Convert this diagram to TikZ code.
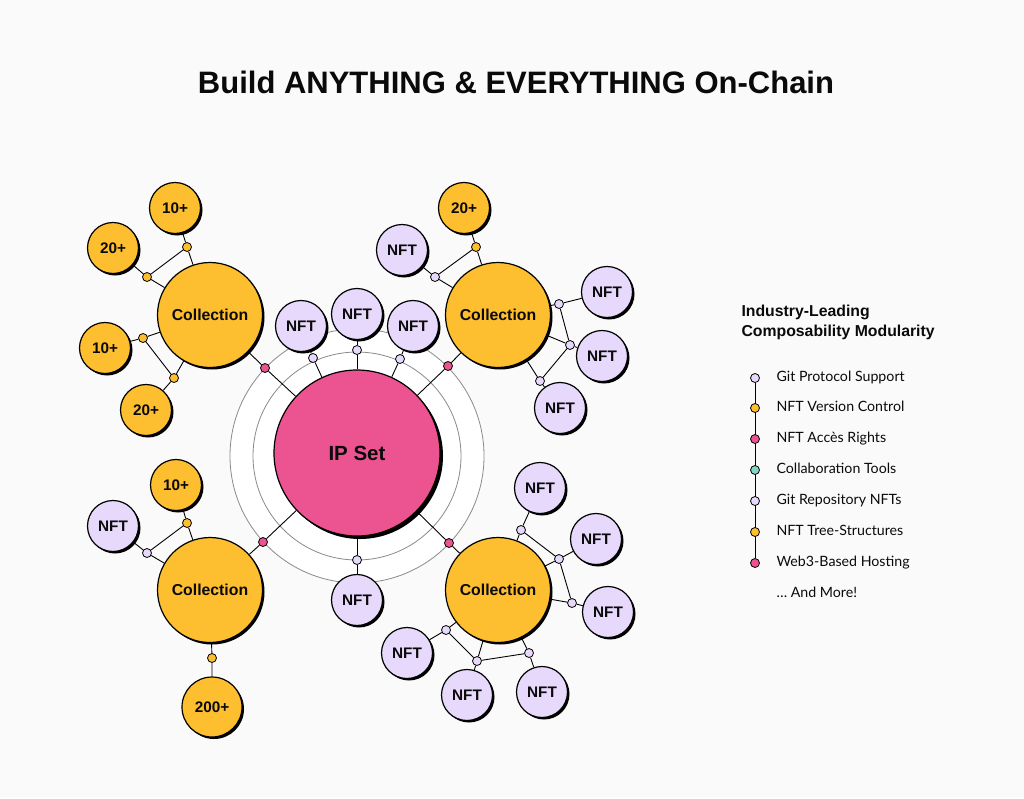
\documentclass[tikz,border=0pt]{standalone}
\usepackage{fontspec}
\setmainfont{Liberation Sans}
\newfontfamily\legendfont{Lato}
\usetikzlibrary{shadows}
\definecolor{bgc}{HTML}{FAFAFA}
\definecolor{ipyel}{HTML}{FDBE30}
\definecolor{ippink}{HTML}{EC5491}
\definecolor{iplav}{HTML}{E7D9FB}
\definecolor{ipteal}{HTML}{80D5C5}
\definecolor{ringgray}{HTML}{8A8A8A}
\definecolor{ink}{HTML}{0A0A0A}
\pgfdeclarelayer{bglayer}
\pgfdeclarelayer{edgelayer}
\pgfsetlayers{bglayer,edgelayer,main}
\begin{document}
\begin{tikzpicture}[x=1pt,y=-1pt,
  bubble/.style={circle, draw=black, line width=1.2pt, inner sep=0pt, text=ink,
    drop shadow={opacity=1, fill=black, shadow xshift=2pt, shadow yshift=-2pt}},
  ipset/.style={bubble, fill=ippink, minimum size=166pt, font=\bfseries\fontsize{20.5}{24}\selectfont,
    drop shadow={opacity=1, fill=black, shadow xshift=3pt, shadow yshift=-3pt}},
  coll/.style={bubble, fill=ipyel, minimum size=105pt, font=\bfseries\fontsize{15.8}{18}\selectfont},
  nft/.style={bubble, fill=iplav, minimum size=51pt, font=\bfseries\fontsize{15.3}{18}\selectfont},
  cnt/.style={bubble, fill=ipyel, minimum size=51pt, font=\bfseries\fontsize{15.3}{18}\selectfont},
  bigcnt/.style={cnt, minimum size=60pt},
  jdot/.style={circle, draw=black, line width=0.8pt, inner sep=0pt, minimum size=9pt},
  ydot/.style={jdot, fill=ipyel},
  pdot/.style={jdot, fill=ippink},
  ldot/.style={jdot, fill=iplav},
  tdot/.style={jdot, fill=ipteal},
  conn/.style={draw=black, line width=0.9pt},
  ring/.style={draw=ringgray, line width=0.8pt},
  legitem/.style={anchor=west, text=ink, text height=10pt, text depth=3pt, font=\legendfont\fontsize{14.2}{17}\selectfont},
  leghead/.style={anchor=base west, text=ink, font=\bfseries\fontsize{15.8}{18}\selectfont}
]
\begin{pgfonlayer}{bglayer}
  \fill[bgc] (0,0) rectangle (1024,798);
  \filldraw[fill=white, ring] (357,456) circle[radius=127];
  \draw[ring] (357,456) circle[radius=104];
\end{pgfonlayer}
\useasboundingbox (0,0) rectangle (1024,798);

% title
\node[font=\bfseries\fontsize{31}{36}\selectfont, text=ink] (title) at (516,82) {Build ANYTHING \& EVERYTHING On-Chain};

% center
\node[ipset] (ip) at (357,453) {IP Set};
\node[pdot] (p1) at (265,368) {};
\node[pdot] (p2) at (448,366) {};
\node[pdot] (p3) at (263,542) {};
\node[pdot] (p4) at (449,543) {};
\node[ldot] (r1) at (313,358) {};
\node[ldot] (r2) at (357,350) {};
\node[ldot] (r3) at (400,359) {};
\node[ldot] (r4) at (357,560) {};
\node[nft] (n1) at (301,326) {NFT};
\node[nft] (n2) at (357,314) {NFT};
\node[nft] (n3) at (413,326) {NFT};
\node[nft] (n4) at (357,600) {NFT};

% top-left collection
\node[coll] (cTL) at (210,315) {Collection};
\node[cnt] (a1) at (175,208) {10+};
\node[cnt] (a2) at (113,248) {20+};
\node[cnt] (a3) at (105,348) {10+};
\node[cnt] (a4) at (146,410) {20+};
\node[ydot] (da1) at (187,247) {};
\node[ydot] (da2) at (147,277) {};
\node[ydot] (da3) at (143,338) {};
\node[ydot] (da4) at (174,378) {};

% top-right collection
\node[coll] (cTR) at (498,315) {Collection};
\node[cnt] (b1) at (464,208) {20+};
\node[nft] (b2) at (402,250) {NFT};
\node[nft] (b3) at (607,292) {NFT};
\node[nft] (b4) at (602,356) {NFT};
\node[nft] (b5) at (560,408) {NFT};
\node[ydot] (db1) at (476,247) {};
\node[ldot] (db2) at (435,277) {};
\node[ldot] (db3) at (559,304) {};
\node[ldot] (db4) at (570,345) {};
\node[ldot] (db5) at (540,381) {};

% bottom-right collection
\node[coll] (cBR) at (498,590) {Collection};
\node[nft] (c1) at (540,488) {NFT};
\node[nft] (c2) at (596,539) {NFT};
\node[nft] (c3) at (608,612) {NFT};
\node[nft] (c4) at (407,653) {NFT};
\node[nft] (c5) at (467,695) {NFT};
\node[nft] (c6) at (542,692) {NFT};
\node[ldot] (dc1) at (521,530) {};
\node[ldot] (dc2) at (559,559) {};
\node[ldot] (dc3) at (572,603) {};
\node[ldot] (dc4) at (446,630) {};
\node[ldot] (dc5) at (477,661) {};
\node[ldot] (dc6) at (529,653) {};

% bottom-left collection
\node[coll] (cBL) at (210,590) {Collection};
\node[cnt] (d1) at (176,485) {10+};
\node[nft] (d2) at (113,526) {NFT};
\node[bigcnt] (d3) at (212,707) {200+};
\node[ydot] (dd1) at (187,523) {};
\node[ldot] (dd2) at (147,553) {};
\node[ydot] (dd3) at (212,658) {};

% legend
\node[leghead] (lh1) at (738,316) {Industry-Leading};
\node[leghead] (lh2) at (738,336) {Composability Modularity};
\node[ldot] (l1) at (755,378) {};
\node[ydot] (l2) at (755,408) {};
\node[pdot] (l3) at (755,439) {};
\node[tdot] (l4) at (755,470) {};
\node[ldot] (l5) at (755,501) {};
\node[ydot] (l6) at (755,532) {};
\node[pdot] (l7) at (755,563) {};
\node[legitem] (t1) at (773,378) {Git Protocol Support};
\node[legitem] (t2) at (773,408) {NFT Version Control};
\node[legitem] (t3) at (773,439) {NFT Accès Rights};
\node[legitem] (t4) at (773,470) {Collaboration Tools};
\node[legitem] (t5) at (773,501) {Git Repository NFTs};
\node[legitem] (t6) at (773,532) {NFT Tree-Structures};
\node[legitem] (t7) at (773,563) {Web3-Based Hosting};
\node[legitem] (t8) at (773,594) {… And More!};

\begin{pgfonlayer}{edgelayer}
  % center
  \path[conn] (cTL) -- (p1) -- (ip);
  \path[conn] (cTR) -- (p2) -- (ip);
  \path[conn] (cBL) -- (p3) -- (ip);
  \path[conn] (cBR) -- (p4) -- (ip);
  \path[conn] (n1) -- (r1) -- (ip);
  \path[conn] (n2) -- (r2) -- (ip);
  \path[conn] (n3) -- (r3) -- (ip);
  \path[conn] (n4) -- (r4) -- (ip);
  % TL
  \path[conn] (a1) -- (da1) -- (cTL);
  \path[conn] (a2) -- (da2) -- (cTL);
  \path[conn] (da1) -- (da2);
  \path[conn] (a3) -- (da3) -- (cTL);
  \path[conn] (a4) -- (da4) -- (cTL);
  \path[conn] (da3) -- (da4);
  % TR
  \path[conn] (b1) -- (db1) -- (cTR);
  \path[conn] (b2) -- (db2) -- (cTR);
  \path[conn] (db1) -- (db2);
  \path[conn] (b3) -- (db3) -- (cTR);
  \path[conn] (b4) -- (db4) -- (cTR);
  \path[conn] (b5) -- (db5) -- (cTR);
  \path[conn] (db3) -- (db4) -- (db5);
  % BR
  \path[conn] (c1) -- (dc1) -- (cBR);
  \path[conn] (c2) -- (dc2) -- (cBR);
  \path[conn] (c3) -- (dc3) -- (cBR);
  \path[conn] (dc1) -- (dc2) -- (dc3);
  \path[conn] (c4) -- (dc4) -- (cBR);
  \path[conn] (c5) -- (dc5) -- (cBR);
  \path[conn] (c6) -- (dc6) -- (cBR);
  \path[conn] (dc4) -- (dc5) -- (dc6);
  % BL
  \path[conn] (d1) -- (dd1) -- (cBL);
  \path[conn] (d2) -- (dd2) -- (cBL);
  \path[conn] (dd1) -- (dd2);
  \path[conn] (d3) -- (dd3) -- (cBL);
  % legend line
  \path[conn] (l1) -- (l7);
\end{pgfonlayer}
\end{tikzpicture}
\end{document}
